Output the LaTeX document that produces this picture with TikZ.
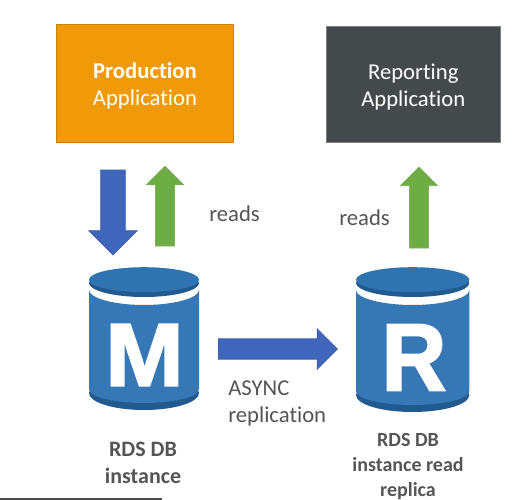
\documentclass[tikz,border=0pt]{standalone}
\usepackage{fontspec}
\setmainfont[Ligatures=NoCommon]{Carlito}
\newfontfamily\letterfont[BoldFeatures={FakeBold=2.2}]{Liberation Sans}
\usetikzlibrary{shapes.arrows}
\definecolor{orangebox}{HTML}{F09A0A}
\definecolor{grayboxc}{HTML}{444A4B}
\definecolor{dbblue}{HTML}{3677B6}
\definecolor{dbcap}{HTML}{2F74B1}
\definecolor{dbdark}{HTML}{215A8E}
\definecolor{arrowblue}{HTML}{3F66BA}
\definecolor{arrowblueedge}{HTML}{3A5FA8}
\definecolor{arrowgreen}{HTML}{6EAC45}
\definecolor{arrowgreenedge}{HTML}{7FB05E}
\definecolor{labelgray}{HTML}{555555}
\tikzset{
  appbox/.style={rectangle,anchor=north west,inner sep=0pt,outer sep=0pt},
  apptext/.style={inner sep=0pt,align=center,text=white,font=\fontsize{17}{20.3}\selectfont},
  labeltext/.style={text=labelgray,inner sep=0pt,font=\fontsize{17}{20}\selectfont,align=left},
  dblabelm/.style={text=labelgray,inner sep=0pt,align=center,font=\bfseries\fontsize{16.5}{20.6}\selectfont},
  dblabelr/.style={text=labelgray,inner sep=0pt,align=center,font=\bfseries\fontsize{15}{18.6}\selectfont},
  dbletter/.style={text=white,inner sep=0pt,font=\letterfont\bfseries\fontsize{67}{67}\selectfont},
  blockarrow/.style={single arrow,single arrow tip angle=90,anchor=tail,outer sep=0pt,line width=.5pt},
  bluearrow/.style={blockarrow,fill=arrowblue,draw=arrowblueedge},
  greenarrow/.style={blockarrow,fill=arrowgreen,draw=arrowgreenedge}
}
% #1 left edge, #2 x-scale, #3 extra drop of the base
\newcommand{\dbcyl}[3]{%
  \begin{scope}[shift={(#1,0)},xscale=#2]
    \fill[dbdark] (55,393+#3) ellipse [x radius=55,y radius=17];
    \fill[dbblue] (0,290) .. controls (0,298) and (25,305) .. (55,305)
      .. controls (85,305) and (110,298) .. (110,290) -- (110,389+#3)
      .. controls (110,397+#3) and (85,403+#3) .. (55,403+#3)
      .. controls (25,403+#3) and (0,397+#3) .. (0,389+#3) -- cycle;
    \fill[dbdark] (55,283) ellipse [x radius=55,y radius=14];
    \fill[dbcap] (55,279.7) ellipse [x radius=55,y radius=12.5];
  \end{scope}}
\begin{document}
\begin{tikzpicture}[x=0.75pt,y=-0.75pt]
\useasboundingbox (0,0) rectangle (529,500);
\fill[white] (0,0) rectangle (529,500);
\node[appbox,fill=orangebox,draw=orangebox!85!black,line width=.4pt,minimum width=132.4pt,minimum height=88.8pt] (prod) at (56.7,24.3) {};
\node[apptext,yshift=-2pt] (prodlbl) at (prod.center) {\textbf{Production}\\Application};
\node[appbox,fill=grayboxc,draw=gray,line width=.4pt,minimum width=130.9pt,minimum height=87pt] (rep) at (326,26) {};
\node[apptext,yshift=-2pt] (replbl) at (rep.center) {Reporting\\Application};
\dbcyl{89}{1}{0}
\dbcyl{356}{1.03}{2}
\node[dbletter,xscale=1.05] (mletter) at (144.5,355) {M};
\node[dbletter,xscale=1,yscale=1.07] (rletter) at (414,357.5) {R};
\node[bluearrow,rotate=-90,minimum height=63.75pt,minimum width=36pt,inner sep=9pt,single arrow head extend=9pt] (write) at (113,170) {};
\node[greenarrow,rotate=90,minimum height=60pt,minimum width=28pt,inner sep=6.9pt,single arrow head extend=7pt] (readm) at (165,246) {};
\node[greenarrow,rotate=90,minimum height=60.75pt,minimum width=27.5pt,inner sep=6.9pt,single arrow head extend=6.85pt] (readr) at (419,248) {};
\node[bluearrow,minimum height=89.25pt,minimum width=30pt,inner sep=7.4pt,single arrow head extend=7.6pt] (async) at (218.5,349) {};
\node[labeltext,anchor=west] (readsm) at (209,214) {reads};
\node[labeltext,anchor=west] (readsr) at (339,218) {reads};
\node[labeltext,anchor=north west] (asynclbl) at (228,381) {ASYNC\\replication};
\node[dblabelm] (dbm) at (143,463) {RDS DB\\instance};
\node[dblabelr] (dbr) at (408,466.5) {RDS DB\\instance read\\replica};
\fill[black!70] (0,498) rectangle (162,500);
\end{tikzpicture}
\end{document}
